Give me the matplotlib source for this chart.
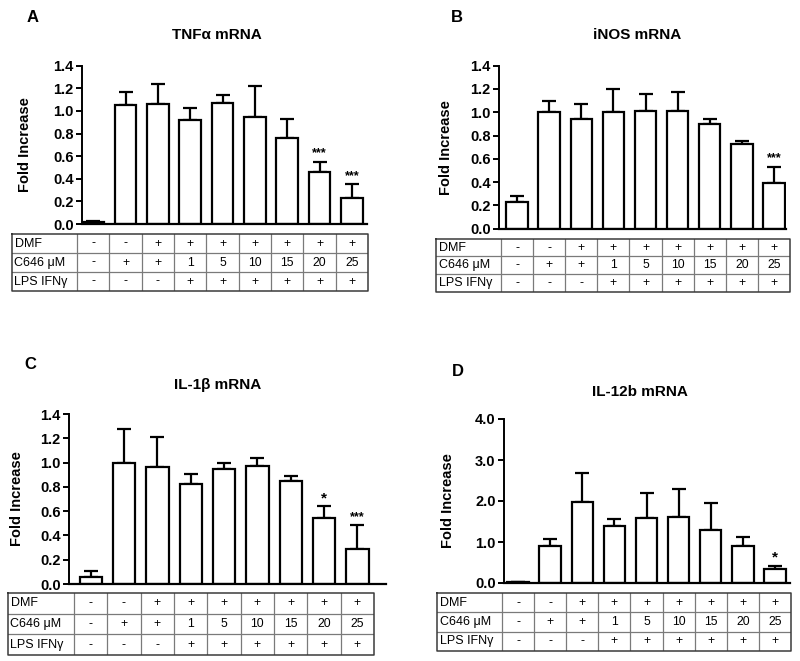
import numpy as np
import matplotlib.pyplot as plt

plt.rcParams['font.family'] = ['Liberation Sans', 'DejaVu Sans']

# condition table (same for all panels)
row_labels = ['DMF', 'C646 \u03bcM', 'LPS IFN\u03b3']
dmf = ['-', '-', '+', '+', '+', '+', '+', '+', '+']
c646 = ['-', '+', '+', '1', '5', '10', '15', '20', '25']
lps = ['-', '-', '-', '+', '+', '+', '+', '+', '+']

# panel A: TNFa
tnf_mean = [0.02, 1.05, 1.06, 0.92, 1.07, 0.95, 0.76, 0.46, 0.23]
tnf_err = [0.005, 0.12, 0.18, 0.11, 0.07, 0.27, 0.17, 0.09, 0.12]
tnf_sig = ['', '', '', '', '', '', '', '***', '***']

# panel B: iNOS
inos_mean = [0.23, 1.00, 0.94, 1.00, 1.01, 1.01, 0.90, 0.73, 0.39]
inos_err = [0.05, 0.10, 0.13, 0.20, 0.15, 0.16, 0.04, 0.02, 0.14]
inos_sig = ['', '', '', '', '', '', '', '', '***']

# panel C: IL-1b
il1b_mean = [0.06, 1.00, 0.96, 0.82, 0.95, 0.97, 0.85, 0.54, 0.29]
il1b_err = [0.05, 0.28, 0.25, 0.09, 0.05, 0.07, 0.04, 0.10, 0.20]
il1b_sig = ['', '', '', '', '', '', '', '*', '***']

# panel D: IL-12b
il12_mean = [0.02, 0.91, 1.97, 1.38, 1.59, 1.60, 1.30, 0.91, 0.35]
il12_err = [0.0, 0.16, 0.71, 0.18, 0.60, 0.70, 0.66, 0.22, 0.06]
il12_sig = ['', '', '', '', '', '', '', '', '*']

W, H = 800, 661
fig = plt.figure(figsize=(W / 100, H / 100), dpi=100)


def px_axes(l, t, r, b):
    return fig.add_axes([l / W, 1 - b / H, (r - l) / W, (b - t) / H])


def panel(letter, title, mean, err, sig, ymax, yticks, ytl,
          axbox, tbox, lab_r, letter_xy, title_xy, ylab_x, star_pad):
    al, at, ar, ab = axbox
    tl, tt, tr, tb = tbox
    colw = (tr - lab_r) / 9.0
    x0 = (al - lab_r) / colw - 0.5
    x1 = (ar - lab_r) / colw - 0.5

    ax = px_axes(al, at, ar, ab)
    x = np.arange(len(mean))
    ax.bar(x, mean, width=0.67, color='white', edgecolor='black', lw=1.6, zorder=2)
    ax.errorbar(x, mean, yerr=[np.zeros(len(err)), err], fmt='none',
                ecolor='black', elinewidth=1.6, capsize=4.8, capthick=1.6, zorder=1)
    for i, s in enumerate(sig):
        if s:
            ax.text(x[i], mean[i] + err[i] + star_pad, s, ha='center', va='bottom',
                    fontsize=9 if s == '***' else 11, fontweight='bold')
    ax.set_xlim(x0, x1)
    ax.set_ylim(0, ymax)
    ax.set_yticks(yticks)
    ax.set_yticklabels(ytl, fontsize=10.5, fontweight='bold')
    ax.set_xticks([])
    for sp in ['top', 'right']:
        ax.spines[sp].set_visible(False)
    ax.spines['left'].set_linewidth(1.4)
    ax.spines['bottom'].set_linewidth(1.6)
    ax.tick_params(axis='y', width=1.4, length=4, pad=2)
    ax.set_ylabel('Fold Increase', fontsize=10.5, fontweight='bold')
    ax.yaxis.set_label_coords((ylab_x - al) / (ar - al), 0.5)

    # condition table below
    ta = px_axes(tl, tt, tr, tb)
    ta.set_xlim(tl, tr)
    ta.set_ylim(3, 0)
    ta.axis('off')
    for r in range(1, 3):
        ta.plot([tl, tr], [r, r], color='#7a7a7a', lw=0.9)
    for c in range(9):
        xx = lab_r + c * colw
        ta.plot([xx, xx], [0, 3], color='#7a7a7a', lw=0.9)
    ta.plot([tl, tr, tr, tl, tl], [0, 0, 3, 3, 0], color='#3a3a3a', lw=1.1, clip_on=False)
    for r, (lab, vals) in enumerate(zip(row_labels, [dmf, c646, lps])):
        ta.text(tl + 2.5, r + 0.5, lab, ha='left', va='center', fontsize=9)
        for c, v in enumerate(vals):
            ta.text(lab_r + (c + 0.5) * colw, r + 0.5, v, ha='center', va='center',
                    fontsize=8.8)

    fig.text(letter_xy[0] / W, 1 - letter_xy[1] / H, letter, fontsize=12,
             fontweight='bold', ha='center', va='center')
    fig.text(title_xy[0] / W, 1 - title_xy[1] / H, title, fontsize=11,
             fontweight='bold', ha='center', va='center')


t14 = [0, 0.2, 0.4, 0.6, 0.8, 1.0, 1.2, 1.4]
tl14 = ['%.1f' % v for v in t14]
t4 = [0, 1, 2, 3, 4]
tl4 = ['%.1f' % v for v in t4]

panel('A', 'TNF\u03b1 mRNA', tnf_mean, tnf_err, tnf_sig, 1.4, t14, tl14,
      (82, 65.7, 367, 224), (12, 234, 368, 291), 77, (33, 18), (217, 35), 32, 0.02)
panel('B', 'iNOS mRNA', inos_mean, inos_err, inos_sig, 1.4, t14, tl14,
      (499, 65.7, 786, 228.7), (436, 238.7, 790, 292), 501, (457, 17), (637, 35), 453, 0.02)
panel('C', 'IL-1\u03b2 mRNA', il1b_mean, il1b_err, il1b_sig, 1.4, t14, tl14,
      (69, 414, 386, 584), (8, 593, 374, 655), 74, (30, 365), (218, 385), 24, 0.01)
panel('D', 'IL-12b mRNA', il12_mean, il12_err, il12_sig, 4.0, t4, tl4,
      (504, 419, 790, 583), (437, 593, 791, 651), 502, (458, 372), (640, 392), 455, 0.05)

fig.savefig('out.png', dpi=100)
